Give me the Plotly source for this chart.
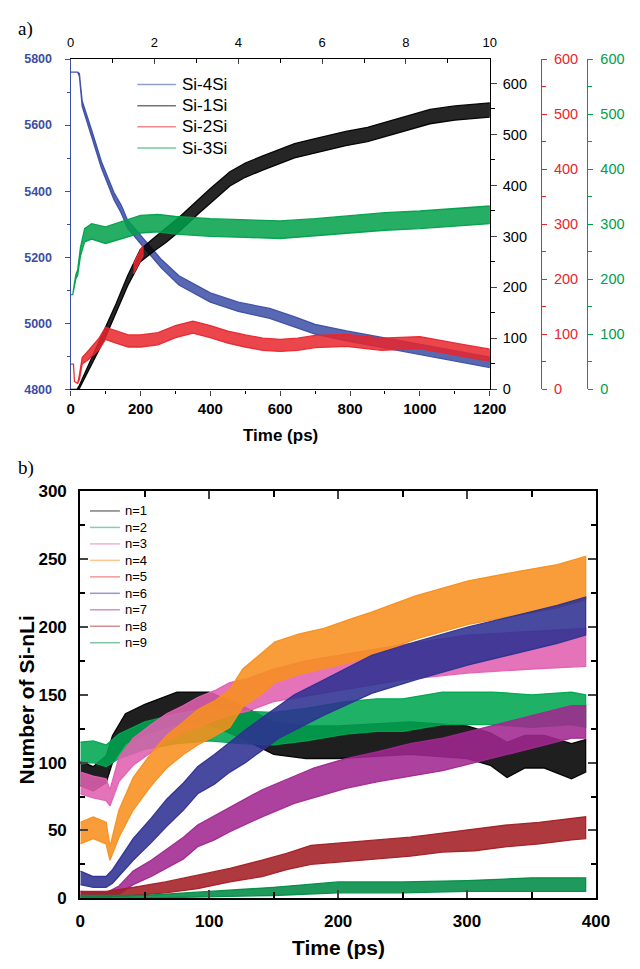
import plotly.graph_objects as go

W, H = 640, 969

# ---------------- panel a: Si-mSi bond counts ----------------
# time in ps; centre value of each noisy trace and its half-width of scatter
si4_t = [0, 20, 25, 33, 60, 88, 124, 145, 163, 218, 260, 310, 400, 480, 570, 640, 700, 790, 900, 1000, 1100, 1200]
si4_v = [5760, 5760, 5752, 5665, 5575, 5480, 5385, 5345, 5300, 5232, 5180, 5130, 5078, 5050, 5030, 5005, 4982, 4962, 4940, 4922, 4902, 4882]
si4_s = [0, 0, 4, 8, 10, 10, 11, 12, 12, 13, 13, 14, 14, 14, 15, 15, 15, 15, 16, 16, 16, 16]

si1_t = [0, 18, 25, 60, 100, 130, 163, 199, 240, 273, 310, 365, 400, 456, 500, 550, 641, 700, 788, 850, 926, 1029, 1100, 1200]
si1_v = [0, 0, 5, 55, 111, 160, 213, 262, 285, 302, 323, 358, 380, 413, 430, 444, 468, 478, 492, 500, 515, 535, 542, 548]
si1_s = [0, 0, 3, 6, 8, 8, 10, 12, 13, 14, 14, 14, 14, 14, 14, 14, 14, 14, 14, 14, 14, 14, 14, 14]

si2_t = [0, 8, 11, 20, 25, 33, 50, 80, 100, 130, 165, 200, 250, 300, 350, 400, 450, 500, 550, 600, 650, 700, 790, 890, 1000, 1110, 1200]
si2_v = [46, 46, 14, 11, 22, 52, 62, 82, 102, 95, 88, 88, 92, 105, 113, 105, 95, 88, 82, 80, 82, 87, 89, 82, 85, 72, 62]
si2_s = [0, 0, 0, 0, 4, 6, 8, 10, 11, 11, 11, 11, 11, 11, 11, 11, 11, 11, 11, 11, 11, 11, 11, 11, 11, 11, 11]

# short stretch of the Si-2Si colour drawn over the Si-1Si rise
si2_seg_t = [180, 193, 207]
si2_seg_v = [237, 255, 272]
si2_seg_s = [10, 10, 10]

si3_t = [0, 6, 10, 15, 20, 28, 40, 60, 100, 150, 200, 250, 300, 400, 500, 600, 700, 800, 900, 1000, 1100, 1200]
si3_v = [172, 172, 188, 205, 212, 250, 280, 287, 280, 290, 300, 302, 298, 294, 292, 290, 294, 300, 305, 308, 312, 317]
si3_s = [0, 0, 2, 4, 5, 8, 12, 14, 15, 16, 16, 16, 16, 16, 16, 16, 16, 16, 16, 16, 16, 16]

names_a = ["Si-4Si", "Si-1Si", "Si-2Si", "Si-3Si"]

# ---------------- panel b: Si-nLi counts ----------------
n1_t = [0, 10, 20, 25, 35, 50, 75, 100, 125, 150, 175, 200, 256, 300, 318, 331, 345, 360, 381, 392]
n1_v = [92, 88, 95, 110, 125, 132, 140, 140, 130, 118, 115, 115, 118, 115, 110, 102, 108, 108, 101, 105]
n1_s = [9, 9, 10, 10, 11, 11, 12, 12, 12, 12, 12, 12, 12, 12, 12, 13, 12, 12, 13, 12]

n2_t = [0, 10, 20, 30, 50, 75, 100, 125, 150, 175, 206, 230, 250, 281, 300, 320, 350, 381, 392]
n2_v = [107, 108, 105, 112, 120, 125, 128, 126, 125, 128, 133, 135, 135, 140, 140, 140, 138, 140, 138]
n2_s = [8, 8, 8, 9, 10, 11, 12, 12, 12, 12, 12, 12, 12, 12, 12, 12, 12, 12, 12]

n3_t = [0, 10, 20, 23, 30, 41, 55, 67, 80, 91, 104, 116, 130, 150, 175, 200, 250, 300, 350, 392]
n3_v = [85, 82, 80, 74, 95, 108, 118, 126, 132, 137, 142, 147, 150, 157, 162, 166, 174, 180, 183, 185]
n3_s = [8, 8, 8, 6, 9, 10, 10, 10, 10, 11, 11, 12, 12, 12, 13, 13, 13, 14, 14, 14]

n4_t = [0, 10, 20, 23, 30, 41, 55, 67, 80, 91, 105, 116, 126, 140, 151, 170, 189, 210, 226, 260, 301, 340, 370, 392]
n4_v = [48, 52, 48, 33, 55, 77, 95, 108, 118, 126, 133, 140, 155, 165, 174, 180, 184, 190, 195, 207, 218, 225, 230, 236]
n4_s = [8, 8, 8, 5, 10, 12, 12, 12, 12, 13, 13, 14, 14, 15, 15, 15, 15, 16, 16, 16, 16, 16, 16, 16]

# n=5 is completely overplotted by the other bands
n5_t = []
n5_v = []
n5_s = []

n6_t = [0, 10, 20, 25, 41, 55, 67, 80, 91, 104, 116, 128, 141, 154, 166, 189, 226, 260, 301, 340, 370, 392]
n6_v = [15, 12, 12, 16, 36, 50, 63, 75, 87, 95, 104, 112, 121, 130, 137, 148, 165, 175, 186, 195, 202, 208]
n6_s = [5, 4, 4, 5, 8, 9, 10, 10, 10, 11, 11, 12, 12, 12, 13, 13, 14, 14, 14, 14, 14, 14]

n7_t = [0, 20, 30, 41, 55, 67, 80, 91, 104, 116, 141, 166, 181, 206, 231, 256, 281, 306, 331, 356, 381, 392]
n7_v = [3, 2, 6, 15, 22, 29, 37, 46, 52, 58, 70, 80, 85, 92, 97, 102, 106, 112, 118, 124, 130, 130]
n7_s = [2, 2, 3, 5, 6, 7, 8, 8, 9, 9, 10, 10, 11, 11, 11, 12, 12, 12, 12, 12, 12, 12]

n8_t = [0, 20, 41, 66, 91, 116, 141, 160, 179, 206, 231, 256, 281, 306, 331, 356, 381, 392]
n8_v = [3, 3, 5, 8, 12, 17, 22, 27, 32, 34, 36, 38, 41, 43, 46, 48, 51, 52]
n8_s = [2, 2, 3, 4, 5, 5, 6, 6, 7, 7, 7, 7, 7, 8, 8, 8, 8, 8]

n9_t = [0, 50, 100, 150, 200, 250, 300, 350, 392]
n9_v = [1, 1, 3, 5, 8, 8, 9, 10, 10]
n9_s = [1, 1, 2, 3, 4, 4, 4, 5, 5]

names_b = ["n=1", "n=2", "n=3", "n=4", "n=5", "n=6", "n=7", "n=8", "n=9"]

# ---------------- styling ----------------
FONT = "Liberation Sans"
BLUE = (59, 78, 165)
BLACK = (0, 0, 0)
RED = (232, 38, 45)
GREEN = (0, 160, 74)
colors_a = [BLUE, BLACK, RED, GREEN]
colors_b = [(0, 0, 0), (0, 166, 81), (224, 96, 176), (247, 144, 30), (238, 48, 48),
            (46, 49, 146), (160, 40, 143), (163, 31, 36), (0, 140, 70)]


def rgba(c, a):
    return "rgba(%d,%d,%d,%.2f)" % (c[0], c[1], c[2], a)


def fx(p):
    return p / W


def fy(p):
    return 1 - p / H


def band(t, v, s, color, xa, ya, alpha=0.85):
    hi = [a + b for a, b in zip(v, s)]
    lo = [a - b for a, b in zip(v, s)]
    return go.Scatter(x=t + t[::-1], y=hi + lo[::-1], mode="lines", fill="toself",
                      fillcolor=rgba(color, alpha), line=dict(color=rgba(color, 0.95), width=1.3),
                      xaxis=xa, yaxis=ya, showlegend=False, hoverinfo="skip")


fig = go.Figure()

# panel a traces, each on its own value axis
fig.add_trace(band(si4_t, si4_v, si4_s, BLUE, "x", "y"))
fig.add_trace(band(si1_t, si1_v, si1_s, BLACK, "x", "y2"))
fig.add_trace(band(si2_seg_t, si2_seg_v, si2_seg_s, RED, "x", "y2"))
fig.add_trace(band(si2_t, si2_v, si2_s, RED, "x", "y3"))
fig.add_trace(band(si3_t, si3_v, si3_s, GREEN, "x", "y4"))
# top time axis in ns
fig.add_trace(go.Scatter(x=[0, 10], y=[None, None], xaxis="x2", yaxis="y", showlegend=False, hoverinfo="skip"))

# panel b traces
series_b = [(n1_t, n1_v, n1_s), (n2_t, n2_v, n2_s), (n3_t, n3_v, n3_s), (n4_t, n4_v, n4_s),
            (n5_t, n5_v, n5_s), (n6_t, n6_v, n6_s), (n7_t, n7_v, n7_s), (n8_t, n8_v, n8_s),
            (n9_t, n9_v, n9_s)]
for (t, v, s), c in zip(series_b, colors_b):
    if t:
        fig.add_trace(band(t, v, s, c, "x3", "y5", alpha=0.88))

# geometry of the two frames (pixels)
ax_l, ax_r, ax_t, ax_b = 68, 502, 51, 388
bx_l, bx_r, bx_t, bx_b = 78, 612, 492, 907
dom_ax = [fx(ax_l), fx(ax_r)]
dom_ay = [fy(ax_b), fy(ax_t)]
dom_bx = [fx(bx_l), fx(bx_r)]
dom_by = [fy(bx_b), fy(bx_t)]

common = dict(showgrid=False, zeroline=False, showline=True)

fig.update_layout(
    width=W, height=H, margin=dict(l=0, r=0, t=0, b=0),
    paper_bgcolor="white", plot_bgcolor="rgba(0,0,0,0)",
    font=dict(family=FONT, color="black"),
    xaxis=dict(domain=dom_ax, anchor="y", range=[0, 1200], tickvals=[0, 200, 400, 600, 800, 1000, 1200],
               ticks="outside", ticklen=5, tickwidth=1.3, linecolor="black", linewidth=1.3,
               minor=dict(dtick=100, ticks="outside", ticklen=3, tickwidth=1.2, tickcolor="black"),
               tickfont=dict(size=15, family=FONT, weight="bold"), **common),
    xaxis2=dict(domain=dom_ax, anchor="y", overlaying="x", side="top", range=[0, 10], dtick=2,
                ticks="inside", ticklen=5, tickwidth=1.3, linecolor="black", linewidth=1.3,
                minor=dict(dtick=1, ticks="inside", ticklen=4, tickwidth=1.2, tickcolor="black"),
                ticklabelstandoff=6, tickfont=dict(size=13, family=FONT), **common),
    yaxis=dict(domain=dom_ay, anchor="x", range=[4800, 5800], dtick=200, ticks="outside", ticklen=5,
               tickwidth=1.3, linecolor=rgba(BLUE, 1), linewidth=1.3, tickcolor=rgba(BLUE, 1),
               minor=dict(dtick=100, ticks="outside", ticklen=3, tickwidth=1.2, tickcolor=rgba(BLUE, 1)),
               ticklabelstandoff=10,
               tickfont=dict(size=12.5, family=FONT, weight="bold", color=rgba(BLUE, 1)), **common),
    yaxis2=dict(domain=dom_ay, anchor="x", overlaying="y", side="right", range=[0, 648], dtick=100,
                ticks="outside", ticklen=6, tickwidth=1.3, linecolor="black", linewidth=1.3,
                minor=dict(dtick=50, ticks="outside", ticklen=4, tickwidth=1.2, tickcolor="black"),
                ticklabelstandoff=3, tickfont=dict(size=14.5, family=FONT), **common),
    yaxis3=dict(domain=dom_ay, anchor="free", overlaying="y", side="right", position=fx(555),
                range=[0, 600], dtick=100, ticks="outside", ticklen=5, tickwidth=1.3,
                linecolor=rgba(RED, 1), linewidth=1.3, tickcolor=rgba(RED, 1),
                minor=dict(dtick=50, ticks="outside", ticklen=4, tickwidth=1.2, tickcolor=rgba(RED, 1)),
                ticklabelstandoff=4, tickfont=dict(size=14.5, family=FONT, color=rgba(RED, 1)), **common),
    yaxis4=dict(domain=dom_ay, anchor="free", overlaying="y", side="right", position=fx(603),
                range=[0, 600], dtick=100, ticks="outside", ticklen=5, tickwidth=1.3,
                linecolor=rgba(GREEN, 1), linewidth=1.3, tickcolor=rgba(GREEN, 1),
                minor=dict(dtick=50, ticks="outside", ticklen=4, tickwidth=1.2, tickcolor=rgba(GREEN, 1)),
                ticklabelstandoff=4, tickfont=dict(size=14.5, family=FONT, color=rgba(GREEN, 1)), **common),
    xaxis3=dict(domain=dom_bx, anchor="y5", range=[0, 400], dtick=100, ticks="inside", ticklen=8,
                tickwidth=2, linecolor="black", linewidth=2.2, mirror="allticks",
                minor=dict(dtick=50, ticks="inside", ticklen=6, tickwidth=2, tickcolor="black"),
                ticklabelstandoff=6, tickfont=dict(size=17, family=FONT, weight="bold"), **common),
    yaxis5=dict(domain=dom_by, anchor="x3", range=[0, 300], dtick=50, ticks="inside", ticklen=8,
                tickwidth=2, linecolor="black", linewidth=2.2, mirror="allticks",
                minor=dict(dtick=25, ticks="inside", ticklen=5, tickwidth=2, tickcolor="black"),
                ticklabelstandoff=8, tickfont=dict(size=17, family=FONT, weight="bold"), **common),
)

ann = []
shapes = []

# axis titles
ann.append(dict(text="<b>Time (ps)</b>", x=fx((ax_l + ax_r) / 2), y=fy(435), xref="paper", yref="paper",
                showarrow=False, font=dict(size=17, family=FONT), xanchor="center", yanchor="middle"))
ann.append(dict(text="<b>Time (ps)</b>", x=fx((bx_l + bx_r) / 2), y=fy(957), xref="paper", yref="paper",
                showarrow=False, font=dict(size=21, family=FONT), xanchor="center", yanchor="middle"))
ann.append(dict(text="<b>Number of Si-nLi</b>", x=fx(22), y=fy(705), xref="paper", yref="paper",
                showarrow=False, textangle=-90, font=dict(size=21, family=FONT),
                xanchor="center", yanchor="middle"))

# panel letters
ann.append(dict(text="a)", x=fx(11), y=fy(20), xref="paper", yref="paper", showarrow=False,
                font=dict(size=19, family="Liberation Serif"), xanchor="left", yanchor="middle"))
ann.append(dict(text="b)", x=fx(11), y=fy(468), xref="paper", yref="paper", showarrow=False,
                font=dict(size=19, family="Liberation Serif"), xanchor="left", yanchor="middle"))

# legend of panel a
for i, (name, c) in enumerate(zip(names_a, colors_a)):
    yy = 77 + i * 21.6
    shapes.append(dict(type="line", xref="paper", yref="paper", x0=fx(137), x1=fx(177), y0=fy(yy), y1=fy(yy),
                       line=dict(color=rgba(c, 0.55), width=1.5)))
    ann.append(dict(text=name, x=fx(181), y=fy(yy), xref="paper", yref="paper", showarrow=False,
                    font=dict(size=17, family=FONT), xanchor="left", yanchor="middle"))

# legend of panel b
for i, (name, c) in enumerate(zip(names_b, colors_b)):
    yy = 512 + i * 16.8
    shapes.append(dict(type="line", xref="paper", yref="paper", x0=fx(88), x1=fx(119), y0=fy(yy), y1=fy(yy),
                       line=dict(color=rgba(c, 0.5), width=1.5)))
    ann.append(dict(text=name, x=fx(122), y=fy(yy), xref="paper", yref="paper", showarrow=False,
                    font=dict(size=13, family=FONT), xanchor="left", yanchor="middle"))

fig.update_layout(annotations=ann, shapes=shapes)
fig.write_html("out.html")
